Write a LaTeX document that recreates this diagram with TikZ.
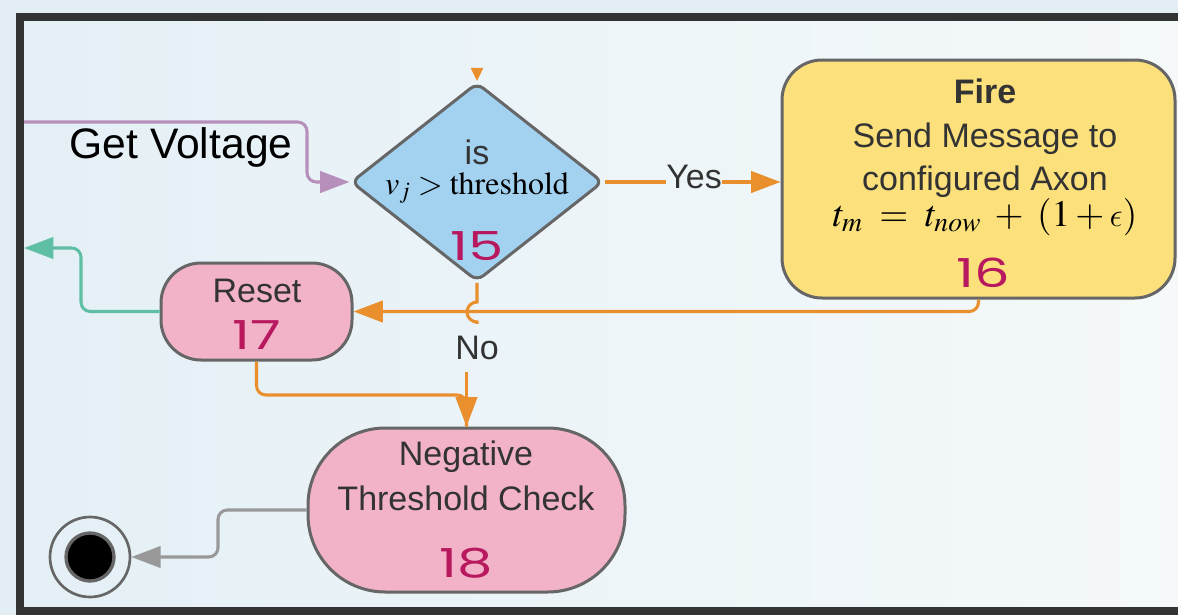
\documentclass[tikz,border=0pt]{standalone}
\usepackage{mathptmx}
\usepackage[no-math]{fontspec}
\setmainfont{Liberation Sans}
\newfontfamily\stepidfont{Poppins}
\usetikzlibrary{arrows.meta,shapes.geometric}
% lunate epsilon taken from the Computer Modern math italic font
\DeclareSymbolFont{cmletters}{OML}{cmm}{m}{it}
\DeclareMathSymbol{\lunateeps}{\mathord}{cmletters}{"0F}

\definecolor{framec}{HTML}{333333}
\definecolor{outerbg}{HTML}{E2EEF4}
\definecolor{innerl}{HTML}{E4F0F6}
\definecolor{innerr}{HTML}{F5F9FA}
\definecolor{decfill}{HTML}{A2D2F0}
\definecolor{nodeline}{HTML}{666666}
\definecolor{firefill}{HTML}{FBE07B}
\definecolor{pinkfill}{HTML}{F2B3C8}
\definecolor{idcol}{HTML}{B8185E}
\definecolor{orng}{HTML}{E98F2D}
\definecolor{purp}{HTML}{B690BA}
\definecolor{tealc}{HTML}{5FBFA5}
\definecolor{grayc}{HTML}{999999}
\definecolor{txt}{HTML}{333333}

\begin{document}
\begin{tikzpicture}[x=0.75pt,y=-0.75pt,
  box/.style={draw=nodeline, line width=2.25pt, inner sep=0pt},
  flow/.style={line width=2.3pt, rounded corners=7pt},
  tip/.style={-{Triangle[length=22pt,width=16pt]}},
  lbl/.style={text=txt, inner sep=0pt, font=\fontsize{25.5}{30}\selectfont},
  idnum/.style={text=idcol, inner sep=0pt, font=\stepidfont\fontsize{30}{36}\selectfont},
  mathlbl/.style={text=black, inner sep=0pt}]

% page and frame
\fill[outerbg] (0,0) rectangle (1178,615);
\useasboundingbox (0,0) rectangle (1178,615);
\shade[left color=innerl, right color=innerr] (20,17) rectangle (1190,611);
\draw[framec, line width=6pt] (1200,17) -- (20,17) -- (20,611) -- (1200,611);

% activity nodes
\node[box, diamond, fill=decfill, rounded corners=6pt,
      minimum width=189pt, minimum height=149pt] (chk) at (477,182) {};
\node[box, fill=firefill, rounded corners=30pt,
      minimum width=294.75pt, minimum height=178.5pt] (fire) at (978.5,179) {};
\node[box, fill=pinkfill, rounded corners=30pt,
      minimum width=143.25pt, minimum height=72.75pt] (reset) at (256.5,311.5) {};
\node[box, fill=pinkfill, rounded corners=58pt,
      minimum width=237.75pt, minimum height=123pt] (neg) at (466.5,510) {};
\node[circle, draw=nodeline, line width=2pt, minimum size=60pt, inner sep=0pt] (end) at (90,557) {};
\node[circle, fill=black, draw=nodeline, line width=2.5pt, minimum size=36pt, inner sep=0pt] (endcore) at (end.center) {};

% texts
\node[anchor=base, text=black, inner sep=0pt, font=\fontsize{32}{38}\selectfont] (gv) at (181,158) {Get Voltage};
\node[lbl, anchor=base] (istxt) at (477,164) {is};
\node[mathlbl, anchor=base, font=\fontsize{24}{28}\selectfont] (cond) at (477,194) {$v_j > \mathrm{threshold}$};
\node[idnum, anchor=base] (n15) at (477,260) {\scalebox{1.4}[1]{15}};

\node[lbl, anchor=base, font=\bfseries\fontsize{25.5}{30}\selectfont] (firet) at (985,103) {Fire};
\node[lbl, anchor=base] (send) at (985,147) {Send Message to};
\node[lbl, anchor=base] (axon) at (985,190) {configured Axon};
\node[mathlbl, anchor=base, font=\fontsize{28}{32}\selectfont] (tm) at (985,226)
  {$t_m \mathrel{\;=\;} t_{now} \mathbin{\;+\;} (1+\lunateeps)$};
\node[idnum, anchor=base] (n16) at (983,287) {\scalebox{1.4}[1]{16}};

\node[lbl, anchor=base] (rst) at (257,302) {Reset};
\node[idnum, anchor=base] (n17) at (257,349) {\scalebox{1.4}[1]{17}};

\node[lbl, anchor=base] (negt) at (466,465) {Negative};
\node[lbl, anchor=base] (thr) at (466,510) {Threshold Check};
\node[idnum, anchor=base] (n18) at (466,577) {\scalebox{1.4}[1]{18}};

\node[lbl, anchor=center] (yes) at (694,177) {Yes};
\node[lbl, anchor=center, inner ysep=9pt] (no) at (477,348) {No};

% connectors
\coordinate (gvin) at (24,122);
\draw[flow, draw=purp, tip] (gvin) -| (307,182) -- (chk.west);

\coordinate (topin) at (477,69);
\draw[draw=orng, line width=2pt, -{Triangle[length=10pt,width=9pt]}] (topin) -- (chk.north);

\draw[flow, draw=orng] (chk.east) -- (chk.east -| yes.west);
\draw[flow, draw=orng, tip] (chk.east -| yes.east) -- (chk.east -| fire.west);

\draw[flow, draw=orng, tip] (fire.south) |- (reset.east);

\draw[line width=2.3pt, draw=orng] (chk.south) -- (477,302)
  arc[start angle=90, end angle=270, radius=7.5pt] -- (no.north);
\draw[flow, draw=orng, tip] (no.south -| neg.north) -- (neg.north);

\coordinate (join) at (466.5,395);
\draw[flow, draw=orng] (reset.south) |- (join) -- (neg.north);

\coordinate (rsout) at (24,248);
\draw[flow, draw=tealc, tip] (reset.west) -| (81,248) -- (rsout);

\draw[flow, draw=grayc, tip] (neg.west) -| (218,557) -- (end.east);
\end{tikzpicture}
\end{document}
